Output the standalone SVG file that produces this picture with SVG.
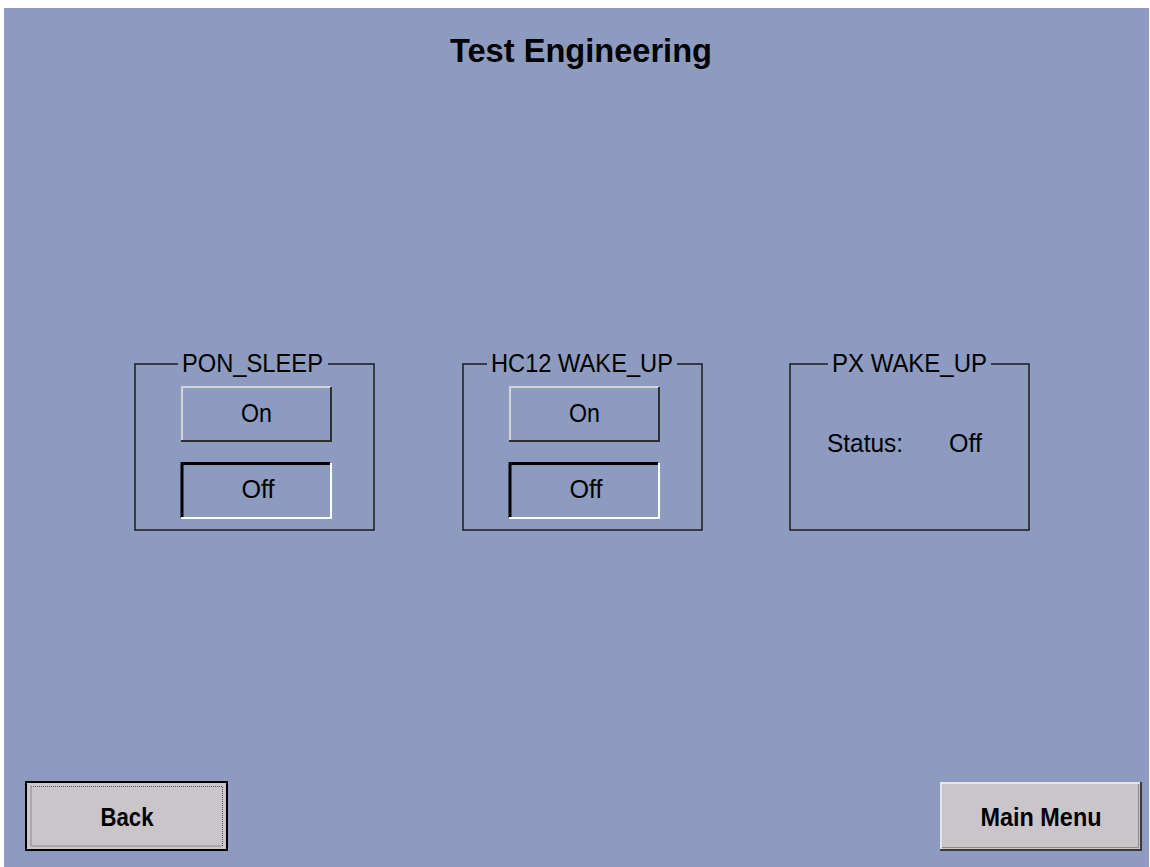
<svg xmlns="http://www.w3.org/2000/svg" width="1150" height="867" viewBox="0 0 1150 867">
<style>
.t{font-family:"Liberation Sans",Arial,sans-serif;fill:#000}
.n{font-size:26px}
.b{font-weight:bold}
.frame{fill:none;stroke:#1c1c1c;stroke-width:1.5}
.lite{stroke:#d4d4d4;stroke-width:2;fill:none}
.dark{stroke:#2e2e2e;stroke-width:2;fill:none}
.blk{stroke:#000;stroke-width:3;fill:none}
.wht{stroke:#fff;stroke-width:2;fill:none}
.bg{fill:#8c9bbf}
</style>
<rect width="1150" height="867" fill="#fff"/>
<rect x="4" y="8" width="1145" height="859" class="bg"/>
<g id="title"><text x="581" y="62" text-anchor="middle" class="t b" font-size="34" textLength="262" lengthAdjust="spacingAndGlyphs">Test Engineering</text></g>

<g id="pon_sleep">
<rect x="135" y="364" width="239" height="166" class="frame"/>
<rect x="178" y="352" width="150" height="24" class="bg"/>
<text x="252.5" y="372" text-anchor="middle" class="t n" textLength="141" lengthAdjust="spacingAndGlyphs">PON_SLEEP</text>
<g id="pon_on">
<polyline points="182,441 182,387 331,387" class="lite"/>
<polyline points="181,441 331,441 331,387" class="dark"/>
<text x="256.5" y="422" text-anchor="middle" class="t n" textLength="31" lengthAdjust="spacingAndGlyphs">On</text>
</g>
<g id="pon_off">
<polyline points="182,518 182,463.5 330,463.5" class="blk"/>
<polyline points="181,518 331,518 331,463" class="wht"/>
<text x="258" y="498" text-anchor="middle" class="t n" textLength="33" lengthAdjust="spacingAndGlyphs">Off</text>
</g>
</g>

<g id="hc12_wake_up">
<rect x="463" y="364" width="239" height="166" class="frame"/>
<rect x="487" y="352" width="190" height="24" class="bg"/>
<text x="582" y="372" text-anchor="middle" class="t n" textLength="182" lengthAdjust="spacingAndGlyphs">HC12 WAKE_UP</text>
<g id="hc12_on">
<polyline points="510,441 510,387 659,387" class="lite"/>
<polyline points="509,441 659,441 659,387" class="dark"/>
<text x="584.5" y="422" text-anchor="middle" class="t n" textLength="31" lengthAdjust="spacingAndGlyphs">On</text>
</g>
<g id="hc12_off">
<polyline points="510,518 510,463.5 658,463.5" class="blk"/>
<polyline points="509,518 659,518 659,463" class="wht"/>
<text x="586" y="498" text-anchor="middle" class="t n" textLength="33" lengthAdjust="spacingAndGlyphs">Off</text>
</g>
</g>

<g id="px_wake_up">
<rect x="790" y="364" width="239" height="166" class="frame"/>
<rect x="828" y="352" width="163" height="24" class="bg"/>
<text x="909.5" y="372" text-anchor="middle" class="t n" textLength="155" lengthAdjust="spacingAndGlyphs">PX WAKE_UP</text>
<text x="827" y="452" class="t n" textLength="76" lengthAdjust="spacingAndGlyphs">Status:</text>
<text x="949" y="452" class="t n" textLength="33" lengthAdjust="spacingAndGlyphs">Off</text>
</g>

<g id="back">
<rect x="26" y="782" width="201" height="68" fill="#c9c5c9" stroke="#000" stroke-width="2"/>
<rect x="31" y="786.5" width="191.5" height="59.5" fill="none" stroke="#555" stroke-width="1" stroke-dasharray="1,1"/>
<text x="127" y="826" text-anchor="middle" class="t b" font-size="26" textLength="53" lengthAdjust="spacingAndGlyphs">Back</text>
</g>

<g id="main_menu">
<rect x="940" y="782" width="201" height="68" fill="#c9c5c9"/>
<polyline points="941,850 941,783 1141,783" stroke="#e6e6e6" stroke-width="2" fill="none"/>
<polyline points="940,850 1141,850 1141,782" stroke="#3a3a3a" stroke-width="2" fill="none"/>
<polyline points="942,847.5 1138.5,847.5 1138.5,784" stroke="#8a8a8a" stroke-width="1" fill="none"/>
<text x="1041" y="826" text-anchor="middle" class="t b" font-size="26" textLength="121" lengthAdjust="spacingAndGlyphs">Main Menu</text>
</g>
</svg>
